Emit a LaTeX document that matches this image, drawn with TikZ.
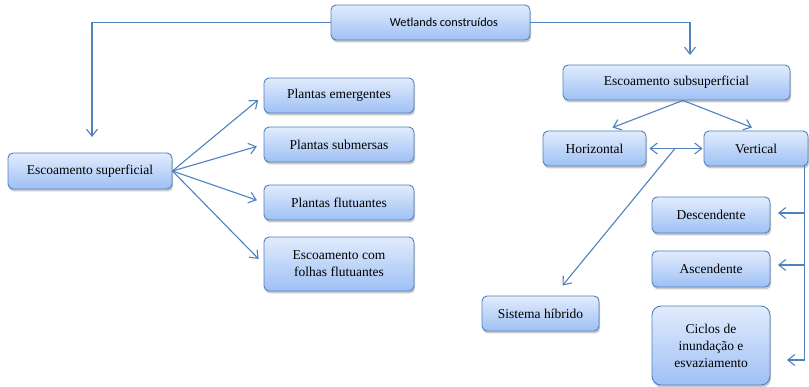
\documentclass[tikz,border=0pt]{standalone}
\usepackage{fontspec}
\setmainfont{Liberation Serif}
\newfontfamily\labelsans{Carlito}
\usetikzlibrary{arrows.meta,shadows,calc}
\definecolor{edgeblue}{RGB}{79,129,189}
\definecolor{topblue}{RGB}{226,236,252}
\definecolor{botblue}{RGB}{158,192,245}
\tikzset{
  box/.style={draw=edgeblue, line width=0.9pt, rounded corners=5pt,
    top color=topblue, bottom color=botblue, align=center,
    inner sep=2pt, font=\fontsize{13.5}{17}\selectfont,
    drop shadow={shadow xshift=1pt, shadow yshift=-2.5pt, opacity=0.35, fill=black!60}},
  conn/.style={draw=edgeblue, line width=1.1pt,
    -{Straight Barb[length=7pt,width=11pt,line width=1.1pt]}},
}
\begin{document}
\begin{tikzpicture}[x=1pt,y=-1pt]
\useasboundingbox (0,0) rectangle (809,387);

% nodes
\node[box, minimum width=199pt, minimum height=35pt, font=\labelsans\fontsize{12.3}{15}\selectfont] (wet) at (430.5,22.5) {\hspace*{27pt}Wetlands construídos};
\node[box, minimum width=164pt, minimum height=36pt] (sup) at (90,171) {Escoamento superficial};
\node[box, minimum width=150pt, minimum height=35pt] (emer) at (339,95.5) {Plantas emergentes};
\node[box, minimum width=150pt, minimum height=35pt] (subm) at (339,144.5) {Plantas submersas};
\node[box, minimum width=150pt, minimum height=35pt] (flut) at (339,202.5) {Plantas flutuantes};
\node[box, minimum width=150pt, minimum height=54pt] (folh) at (339,264) {Escoamento com\\folhas flutuantes};
\node[box, minimum width=227pt, minimum height=35pt] (subs) at (676.5,82.5) {Escoamento subsuperficial};
\node[box, minimum width=103pt, minimum height=35pt] (hor) at (594.5,148.5) {Horizontal};
\node[box, minimum width=104pt, minimum height=35pt] (ver) at (756,148.5) {Vertical};
\node[box, minimum width=117pt, minimum height=35pt] (hib) at (540.5,313.5) {Sistema híbrido};
\node[box, minimum width=118pt, minimum height=36pt] (desc) at (711,215) {Descendente};
\node[box, minimum width=118pt, minimum height=36pt] (asc) at (711,269) {Ascendente};
\node[box, minimum width=118pt, minimum height=79pt, rounded corners=9pt] (cic) at (711,345.5) {Ciclos de\\inundação e\\esvaziamento};

% free ends of connectors
\coordinate (supTip) at (92,137);
\coordinate (subsTip) at (690,55);
\coordinate (vbot) at ([xshift=-4pt]ver.south east);
\coordinate (descTip) at (778,213);
\coordinate (ascTip) at (778,265);
\coordinate (cicTip) at (787,360);

% top level split
\draw[conn] (wet.west) -| (supTip);
\draw[conn] (wet.east) -| (subsTip);

% surface flow branches
\foreach \t in {emer,subm,flut,folh}
  \draw[conn, shorten >=7pt] (sup.east) -- (\t.west);

% subsurface flow branches
\draw[conn] ([xshift=6.5pt]subs.south) -- ([xshift=18pt,yshift=3pt]hor.north);
\draw[conn] ([xshift=6.5pt]subs.south) -- ([xshift=-4pt,yshift=3pt]ver.north);
\draw[conn, {Straight Barb[length=7pt,width=11pt,line width=1.1pt]}-{Straight Barb[length=7pt,width=11pt,line width=1.1pt]}, shorten <=3pt, shorten >=1pt] (hor.east) -- (ver.west);
\draw[conn] ($(hor.east)!0.5!(ver.west)$) -- ([xshift=22pt,yshift=10pt]hib.north);

% vertical flow variants
\draw[conn] (vbot) |- (cicTip);
\draw[conn] (vbot |- descTip) -- (descTip);
\draw[conn] (vbot |- ascTip) -- (ascTip);
\end{tikzpicture}
\end{document}
